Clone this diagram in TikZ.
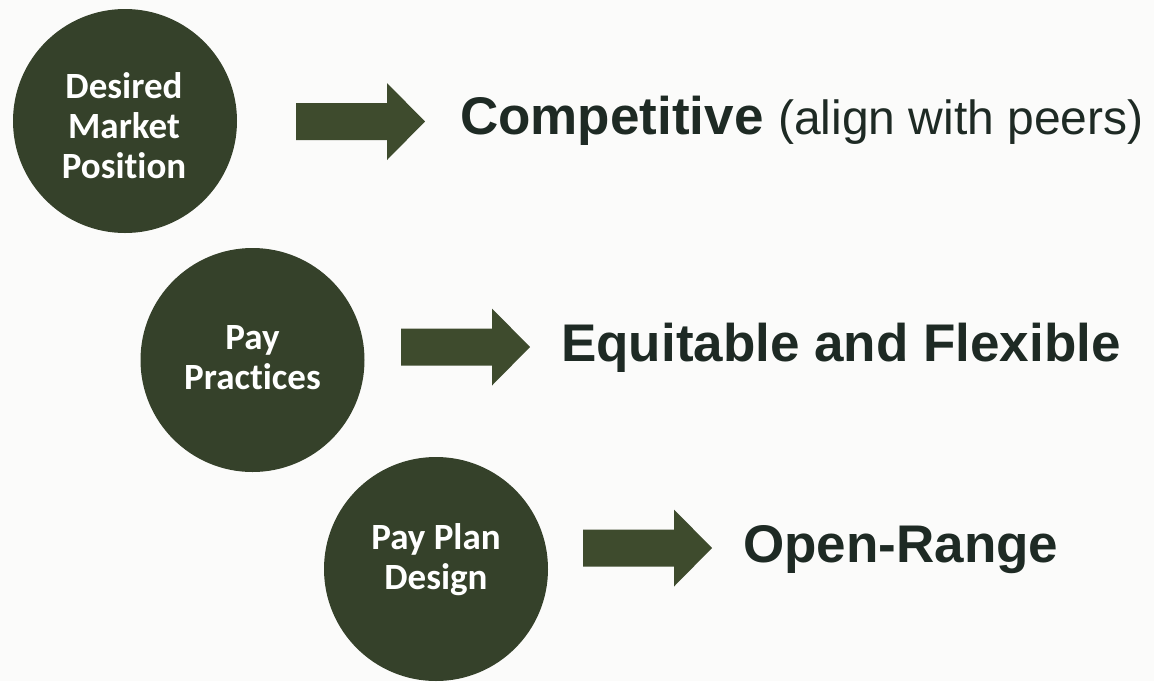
\documentclass[tikz,border=0pt]{standalone}
\usepackage{fontspec}
\newfontfamily\circfont[Ligatures={NoCommon,NoRare,NoContextual}]{Carlito}
\newfontfamily\labelfont{Liberation Sans}
\definecolor{discfill}{HTML}{35412A}
\definecolor{arrowfill}{HTML}{3E4B2D}
\definecolor{inkdark}{HTML}{1E2A24}
\definecolor{bgpaper}{HTML}{FBFBFA}
\begin{document}
\begin{tikzpicture}[x=1pt,y=-1pt,
  disc/.style={circle,fill=discfill,minimum size=224pt,inner sep=0pt},
  disctext/.style={text=white,align=center,inner sep=0pt,
    font=\circfont\bfseries\fontsize{37}{40}\selectfont},
  outcome/.style={anchor=base west,inner sep=0pt,text=inkdark,
    font=\labelfont\bfseries\fontsize{53}{60}\selectfont},
  blockarrow/.pic={\fill[arrowfill] (0,-18.5) -- (91,-18.5) -- (91,-38.5)
    -- (129,0) -- (91,38.5) -- (91,18.5) -- (0,18.5) -- cycle;}]
  % page
  \fill[bgpaper] (0,0) rectangle (1154,681);
  \useasboundingbox (0,0) rectangle (1154,681);

  % discs
  \node[disc] (c1) at (125,121) {};
  \node[disc] (c2) at (252.5,360) {};
  \node[disc] (c3) at (436,569) {};
  \node[disctext] (t1) at (124,126) {Desired\\Market\\Position};
  \node[disctext] (t2) at (252.5,357.5) {Pay\\Practices};
  \node[disctext] (t3) at (436,560) {Pay Plan\\Design};

  % block arrows
  \coordinate (a1) at (296,121.5);
  \coordinate (a2) at (401,347);
  \coordinate (a3) at (583,548);
  \pic at (a1) {blockarrow};
  \pic at (a2) {blockarrow};
  \pic at (a3) {blockarrow};

  % outcomes
  \node[outcome] (o1) at (460,134) {Competitive {\fontsize{48}{56}\selectfont\mdseries (align with peers)}};
  \node[outcome] (o2) at (561,361) {Equitable and Flexible};
  \node[outcome] (o3) at (743,562) {Open-Range};
\end{tikzpicture}
\end{document}
